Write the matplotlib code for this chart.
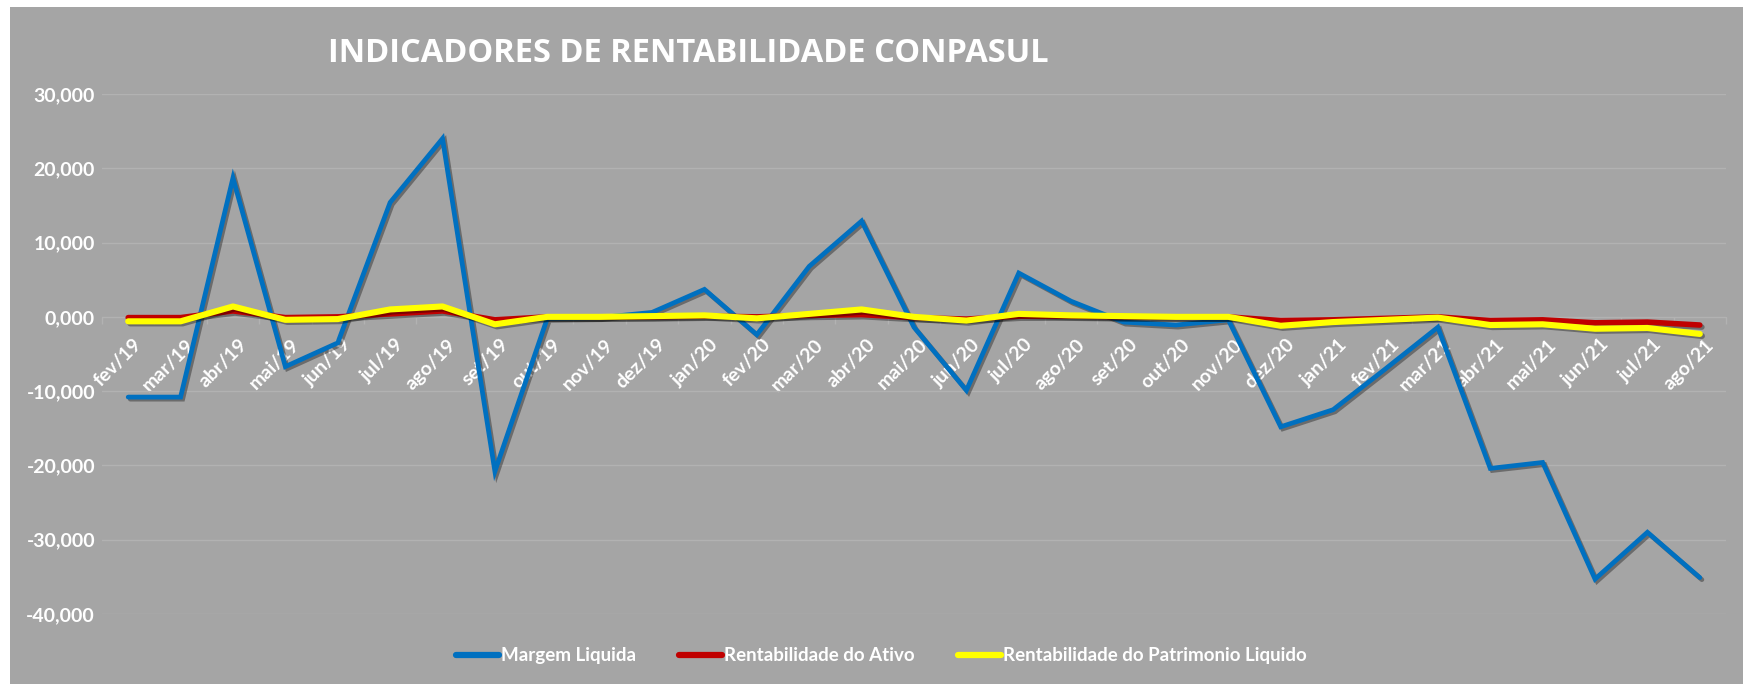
import matplotlib
matplotlib.use('Agg')
import matplotlib.pyplot as plt
import matplotlib.patheffects as pe
import matplotlib.transforms as mtransforms
from matplotlib.patches import Rectangle
from matplotlib.ticker import FixedLocator
import numpy as np

# dados
meses = ['fev/19', 'mar/19', 'abr/19', 'mai/19', 'jun/19', 'jul/19', 'ago/19', 'set/19',
         'out/19', 'nov/19', 'dez/19', 'jan/20', 'fev/20', 'mar/20', 'abr/20', 'mai/20',
         'jun/20', 'jul/20', 'ago/20', 'set/20', 'out/20', 'nov/20', 'dez/20', 'jan/21',
         'fev/21', 'mar/21', 'abr/21', 'mai/21', 'jun/21', 'jul/21', 'ago/21']

margem_liquida = [-10.8, -10.8, 18.7, -6.7, -3.5, 15.4, 24.0, -20.8,
                  -0.2, -0.1, 0.6, 3.7, -2.4, 6.8, 12.9, -1.4,
                  -9.9, 5.9, 2.1, -0.7, -1.1, -0.4, -14.8, -12.5,
                  -7.0, -1.4, -20.4, -19.6, -35.3, -29.0, -35.1]

rent_ativo = [-0.1, -0.1, 0.8, -0.1, 0.0, 0.4, 0.8, -0.4,
              0.0, 0.0, 0.0, 0.1, 0.0, 0.2, 0.3, -0.1,
              -0.3, 0.1, 0.1, 0.0, 0.0, 0.0, -0.5, -0.4,
              -0.2, 0.0, -0.5, -0.4, -0.8, -0.7, -1.1]

rent_pl = [-0.6, -0.6, 1.4, -0.4, -0.3, 1.0, 1.4, -1.0,
           0.0, 0.0, 0.1, 0.2, -0.2, 0.4, 1.0, 0.0,
           -0.5, 0.4, 0.2, 0.1, 0.0, 0.0, -1.2, -0.7,
           -0.4, -0.1, -1.1, -1.0, -1.6, -1.5, -2.3]

y_ticks = [-40, -30, -20, -10, 0, 10, 20, 30]

bg = '#A5A5A5'
grid_c = '#B2B2B2'
fonte = ['Lato', 'DejaVu Sans']
plt.rcParams['font.family'] = fonte

fig = plt.figure(figsize=(17.43, 6.84), dpi=100)
fig.patch.set_facecolor('white')
fig.patches.append(Rectangle((10 / 1743, 0), 1, 677 / 684, transform=fig.transFigure,
                             facecolor=bg, edgecolor='none', zorder=-5))

ax = fig.add_axes([102 / 1743, 1 - 614 / 684, (1726 - 102) / 1743, (614 - 94) / 684])
ax.set_facecolor('none')
ax.set_zorder(2)

x = np.arange(len(meses))
sombra = [pe.SimpleLineShadow(offset=(1.5, -1.5), alpha=0.35, shadow_color='black'), pe.Normal()]

ax.plot(x, margem_liquida, color='#0070C0', lw=3.4, label='Margem Liquida',
        solid_joinstyle='miter', solid_capstyle='round', path_effects=sombra, zorder=3)
ax.plot(x, rent_ativo, color='#C00000', lw=4.0, label='Rentabilidade do Ativo',
        solid_capstyle='round', path_effects=sombra, zorder=4)
ax.plot(x, rent_pl, color='#FFFF00', lw=4.4, label='Rentabilidade do Patrimonio Liquido',
        solid_capstyle='round', path_effects=sombra, zorder=5)

ax.set_xlim(-0.5, len(meses) - 0.5)
ax.set_ylim(-40, 30)

ax.set_yticks(y_ticks)
ax.set_yticklabels([f'{v:.3f}'.replace('.', ',') for v in y_ticks])
ax.yaxis.grid(True, color=grid_c, lw=1.0)
ax.set_axisbelow(True)
ax.tick_params(axis='y', length=0, pad=5, labelcolor='white', labelsize=14)
for t in ax.get_yticklabels():
    t.set_fontweight('bold')

for s in ['top', 'right', 'left']:
    ax.spines[s].set_visible(False)
ax.spines['bottom'].set_position(('data', 0))
ax.spines['bottom'].set_color(grid_c)
ax.spines['bottom'].set_zorder(1)

ax.set_xticks(x)
ax.set_xticklabels(meses, rotation=45, ha='right', va='center', rotation_mode='anchor')
ax.xaxis.set_minor_locator(FixedLocator(np.arange(-0.5, len(meses), 1.0)))
ax.tick_params(axis='x', which='major', length=0, pad=18, labelcolor='white', labelsize=14)
ax.tick_params(axis='x', which='minor', length=5, color=grid_c, width=1)
desloc = mtransforms.ScaledTranslation(11 / 100, 0, fig.dpi_scale_trans)
for t in ax.get_xticklabels():
    t.set_fontweight('bold')
    t.set_zorder(6)
    t.set_transform(t.get_transform() + desloc)

fig.text(0.395, 0.922, 'INDICADORES DE RENTABILIDADE CONPASUL', ha='center', va='center',
         fontsize=23.5, fontweight='bold', color='white', family=['Open Sans', 'DejaVu Sans'])

leg = fig.legend(loc='center', bbox_to_anchor=(0.5057, 0.041), ncol=3, frameon=False,
                 handlelength=2.3, handletextpad=0.1, columnspacing=2.3,
                 prop={'family': fonte, 'weight': 'bold', 'size': 13.5})
for t in leg.get_texts():
    t.set_color('white')
for h in leg.get_lines():
    h.set_path_effects([])
    h.set_linewidth(4.5)

fig.savefig('out.png', dpi=100, facecolor=fig.get_facecolor())
